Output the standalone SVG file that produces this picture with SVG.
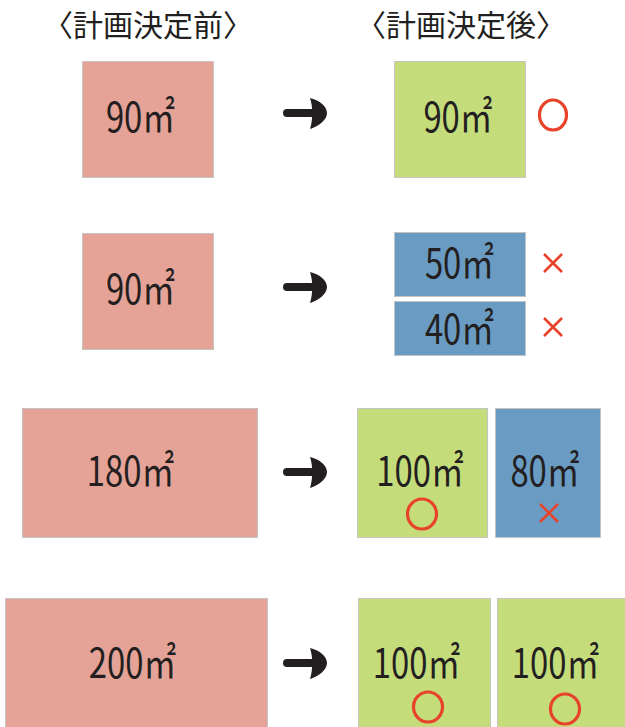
<svg xmlns="http://www.w3.org/2000/svg" xmlns:xlink="http://www.w3.org/1999/xlink" width="625" height="727" viewBox="0 0 625 727">
<style>
.title{font-family:"Noto Sans CJK JP","Noto Sans CJK SC",sans-serif;font-size:30px;fill:#231f20;text-anchor:middle}
.lbl{font-family:"Noto Sans CJK JP","Noto Sans CJK SC",sans-serif;font-size:41px;fill:#231f20;text-anchor:middle}
.pink{fill:#e5a398;stroke:#c4c4c4;stroke-width:1}
.green{fill:#c5dc7b;stroke:#c4c4c4;stroke-width:1}
.blue{fill:#6a9bc3;stroke:#c4c4c4;stroke-width:1}
.ok{fill:none;stroke:#e8432a;stroke-width:3.2}
.ng{stroke:#e8432a;stroke-width:2.6;fill:none}
.shaft{stroke:#231f20;stroke-width:8;stroke-linecap:round;fill:none}
.head{fill:#231f20}
</style>
<defs>
<g id="arrow">
<path class="shaft" d="M287,0 L314,0"/>
<path class="head" d="M310,-15 C319,-13 327,-7 327,0 C327,7 319,13 310,16 C313,6 313,-6 310,-15 Z"/>
</g>
<g id="cross">
<path d="M-9,-9 L9,9 M9,-9 L-9,9"/>
</g>
</defs>

<g id="titles">
<text class="title" x="148" y="36">〈計画決定前〉</text>
<text class="title" x="461" y="36">〈計画決定後〉</text>
</g>

<g id="connectors">
<use xlink:href="#arrow" href="#arrow" transform="translate(0,113)"/>
<use xlink:href="#arrow" href="#arrow" transform="translate(0,287)"/>
<use xlink:href="#arrow" href="#arrow" transform="translate(0,472)"/>
<use xlink:href="#arrow" href="#arrow" transform="translate(0,663)"/>
</g>

<g id="before90a">
<rect class="pink" x="82.5" y="61.5" width="131" height="116"/>
<text class="lbl" transform="translate(140.5,132) scale(0.8,1)">90㎡</text>
</g>
<g id="after90">
<rect class="green" x="394.5" y="61.5" width="131" height="116"/>
<text class="lbl" transform="translate(458,132) scale(0.8,1)">90㎡</text>
</g>
<g id="mark1">
<ellipse class="ok" cx="553" cy="115" rx="13.5" ry="15"/>
</g>

<g id="before90b">
<rect class="pink" x="82.5" y="233.5" width="131" height="116"/>
<text class="lbl" transform="translate(140.5,304) scale(0.8,1)">90㎡</text>
</g>
<g id="after50">
<rect class="blue" x="394.5" y="232.5" width="131" height="64"/>
<text class="lbl" transform="translate(459.5,278) scale(0.8,1)">50㎡</text>
</g>
<g id="after40">
<rect class="blue" x="394.5" y="301.5" width="131" height="54"/>
<text class="lbl" transform="translate(459.5,344) scale(0.8,1)">40㎡</text>
</g>
<g id="mark2">
<use xlink:href="#cross" href="#cross" class="ng" transform="translate(553,263)"/>
<use xlink:href="#cross" href="#cross" class="ng" transform="translate(553,327)"/>
</g>

<g id="before180">
<rect class="pink" x="22.5" y="408.5" width="235" height="129"/>
<text class="lbl" transform="translate(130.5,486) scale(0.8,1)">180㎡</text>
</g>
<g id="after100a">
<rect class="green" x="357.5" y="408.5" width="130" height="129"/>
<text class="lbl" transform="translate(420,486) scale(0.8,1)">100㎡</text>
<ellipse class="ok" cx="422" cy="514" rx="14.5" ry="15"/>
</g>
<g id="after80">
<rect class="blue" x="495.5" y="408.5" width="105" height="129"/>
<text class="lbl" transform="translate(545,486) scale(0.8,1)">80㎡</text>
<use xlink:href="#cross" href="#cross" class="ng" transform="translate(549,513)"/>
</g>

<g id="before200">
<rect class="pink" x="5.5" y="598.5" width="262" height="140"/>
<text class="lbl" transform="translate(132.5,678) scale(0.8,1)">200㎡</text>
</g>
<g id="after100b">
<rect class="green" x="358.5" y="598.5" width="132" height="140"/>
<text class="lbl" transform="translate(416.5,678) scale(0.8,1)">100㎡</text>
<ellipse class="ok" cx="428" cy="707" rx="14.5" ry="15"/>
</g>
<g id="after100c">
<rect class="green" x="497.5" y="598.5" width="140" height="140"/>
<text class="lbl" transform="translate(555.5,678) scale(0.8,1)">100㎡</text>
<ellipse class="ok" cx="565" cy="709" rx="14.5" ry="15"/>
</g>
</svg>
